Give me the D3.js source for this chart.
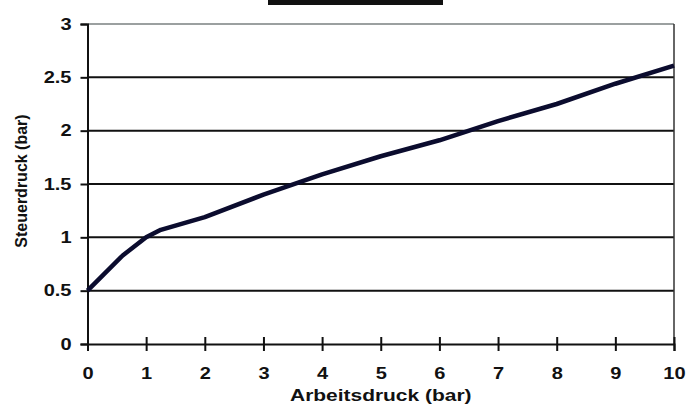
<!DOCTYPE html>
<html>
<head>
<meta charset="utf-8">
<script src="https://cdn.jsdelivr.net/npm/d3@7"></script>
<style>
  body { margin: 0; background: #fff; }
  text { font-family: "Liberation Sans", Arial, sans-serif; font-weight: bold; fill: #111; }
</style>
</head>
<body>
<div id="viz"></div>
<script>
// values
var arbeitsdruck = [0, 0.6, 1, 1.25, 2, 3, 4, 5, 6, 7, 8, 9, 10];
var steuerdruck  = [0.5, 0.83, 1.0, 1.07, 1.19, 1.40, 1.59, 1.76, 1.91, 2.09, 2.25, 2.44, 2.61];
var xTicks = [0, 1, 2, 3, 4, 5, 6, 7, 8, 9, 10];
var yTicks = [0, 0.5, 1, 1.5, 2, 2.5, 3];
var xTitle = "Arbeitsdruck (bar)";
var yTitle = "Steuerdruck (bar)";

var W = 688, H = 409;
var margin = {top: 24, right: 14, bottom: 65, left: 87.5};
var width = W - margin.left - margin.right;
var height = H - margin.top - margin.bottom;
var stretch = 1.25; // text in the picture is a bit wide

var svg = d3.select("#viz").append("svg")
    .attr("width", W)
    .attr("height", H);

// the cut-off box at the top
svg.append("rect")
    .attr("x", 268).attr("y", 0)
    .attr("width", 175).attr("height", 5)
    .attr("fill", "#111");

var g = svg.append("g")
    .attr("transform", "translate(" + margin.left + "," + margin.top + ")");

var x = d3.scaleLinear().domain([0, 10]).range([0, width]);
var y = d3.scaleLinear().domain([0, 3]).range([height, 0]);

/* gridlines */
g.selectAll(".grid")
    .data(yTicks.filter(function(d) { return d > 0; }))
    .enter().append("line")
    .attr("x1", 0).attr("x2", width)
    .attr("y1", function(d) { return y(d); })
    .attr("y2", function(d) { return y(d); })
    .attr("stroke", function(d) { return d == 3 ? "#7a8080" : "#111"; })
    .attr("stroke-width", function(d) { return d == 3 ? 1.5 : 2; });

// right border of plot area
g.append("line")
    .attr("x1", width).attr("x2", width)
    .attr("y1", 0).attr("y2", height)
    .attr("stroke", "#333").attr("stroke-width", 1.5);

/* axes */
var yAxis = g.append("g")
    .call(d3.axisLeft(y).tickValues(yTicks).tickSize(7).tickFormat(d3.format("")));
var xAxis = g.append("g")
    .attr("transform", "translate(0," + height + ")")
    .call(d3.axisBottom(x).tickValues(xTicks).tickSize(7));

[yAxis, xAxis].forEach(function(a) {
  a.select(".domain").attr("stroke", "#111").attr("stroke-width", 2);
  a.selectAll(".tick line").attr("stroke", "#111").attr("stroke-width", 2);
  a.selectAll("text").attr("font-size", 16).attr("font-family", null).attr("fill", "#111");
});

xAxis.selectAll(".tick line").attr("y1", -7);
xAxis.selectAll(".tick text")
    .attr("y", 35).attr("dy", 0)
    .attr("transform", "scale(" + stretch + ",1)");

yAxis.selectAll(".tick text")
    .attr("x", -16 / stretch)
    .attr("transform", "scale(" + stretch + ",1)");

/* axis titles */
svg.append("text")
    .attr("transform", "translate(" + (margin.left + width / 2) + ",401) scale(1.31,1)")
    .attr("text-anchor", "middle")
    .attr("font-size", 16)
    .text(xTitle);

svg.append("text")
    .attr("transform", "translate(27," + (margin.top + height / 2 - 3) + ") rotate(-90)")
    .attr("text-anchor", "middle")
    .attr("font-size", 16)
    .text(yTitle);

/* the curve */
var line = d3.line()
    .x(function(d) { return x(d[0]); })
    .y(function(d) { return y(d[1]); });

g.append("path")
    .datum(d3.zip(arbeitsdruck, steuerdruck))
    .attr("d", line)
    .attr("fill", "none")
    .attr("stroke", "#0b0c2e")
    .attr("stroke-width", 4.5)
    .attr("stroke-linejoin", "round");
</script>
</body>
</html>
